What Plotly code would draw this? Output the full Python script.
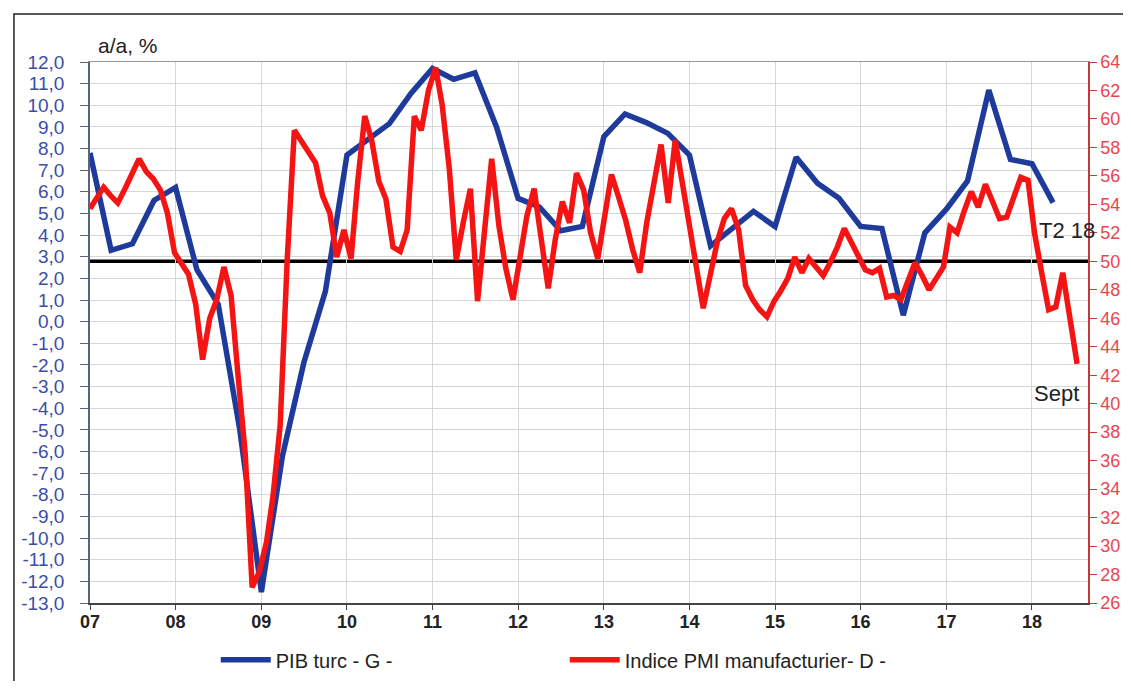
import plotly.graph_objects as go
import pandas as pd

# ---- data ----
years = list(range(2007, 2019))
year_labels = [f"{y % 100:02d}" for y in years]

quarters = pd.date_range("2007-01-01", periods=46, freq="QS")
pib = [7.8, 3.3, 3.6, 5.6,
       6.2, 2.4, 0.8, -5.0,
       -12.5, -6.2, -1.9, 1.4,
       7.7, 8.4, 9.15, 10.55,
       11.7, 11.2, 11.5, 9.0,
       5.7, 5.3, 4.2, 4.4,
       8.55, 9.6, 9.2, 8.7,
       7.7, 3.5, 4.3, 5.1,
       4.4, 7.6, 6.4, 5.7,
       4.4, 4.3, 0.3, 4.1,
       5.2, 6.5, 10.7, 7.5,
       7.3, 5.5]

months = pd.date_range("2007-01-01", periods=141, freq="MS")
pmi = [53.7, 54.5, 55.2, 54.6, 54.1, 55.1, 56.1, 57.2, 56.3, 55.8, 55.0, 53.4,
       50.6, 49.8, 49.1, 47.0, 43.1, 46.0, 47.3, 49.6, 47.6, 42.0, 36.5, 27.1,
       28.2, 30.3, 33.5, 38.5, 50.0, 59.2, 58.4, 57.7, 56.9, 54.6, 53.4, 50.3,
       52.2, 50.2, 55.5, 60.2, 58.5, 55.6, 54.4, 51.0, 50.7, 52.2, 60.2, 59.2,
       62.0, 63.6, 61.0, 56.5, 50.1, 52.8, 55.1, 47.2, 52.5, 57.2, 52.5, 49.5,
       47.3, 50.5, 53.2, 55.1, 51.5, 48.1, 51.5, 54.2, 52.7, 56.2, 55.0, 52.0,
       50.2, 53.5, 56.1, 54.5, 52.9, 50.8, 49.2, 52.8, 55.6, 58.2, 54.1, 58.5,
       55.5, 52.4, 49.2, 46.7, 49.0, 51.4, 53.0, 53.7, 52.2, 48.3, 47.3, 46.6,
       46.1, 47.2, 47.9, 48.8, 50.3, 49.2, 50.2, 49.6, 49.0, 49.9, 51.0, 52.3,
       51.3, 50.3, 49.4, 49.2, 49.5, 47.5, 47.6, 47.3, 48.5, 49.9, 49.0, 48.0,
       48.8, 49.6, 52.4, 52.0, 53.5, 54.9, 53.8, 55.4, 54.2, 53.0, 53.1, 54.5,
       55.9, 55.7, 52.0, 49.2, 46.6, 46.8, 49.2, 46.0, 42.8]

pmi_threshold = 50

left_ticks = list(range(-13, 13))
left_labels = [f"{v:.1f}".replace(".", ",") for v in left_ticks]
right_ticks = list(range(26, 66, 2))

FONT = "Liberation Sans, Arial, sans-serif"

fig = go.Figure()
fig.add_trace(go.Scatter(
    x=quarters, y=pib, name="PIB turc - G -", mode="lines",
    line=dict(color="#1e3b9c", width=5.5), xaxis="x", yaxis="y"))
fig.add_trace(go.Scatter(
    x=months, y=pmi, name="Indice PMI manufacturier- D -", mode="lines",
    line=dict(color="#f51414", width=5.5), xaxis="x2", yaxis="y2"))

fig.update_layout(
    width=1115, height=673,
    margin=dict(l=82, r=35, t=54, b=78, autoexpand=False),
    paper_bgcolor="white", plot_bgcolor="white",
    font=dict(family=FONT, size=16, color="#222"),
    showlegend=True,
    legend=dict(orientation="h", x=0.126, y=-0.105, xanchor="left", yanchor="middle",
                font=dict(size=20, color="#222"), entrywidth=284, itemwidth=50,
                bgcolor="rgba(0,0,0,0)"),
    xaxis=dict(type="date", range=["2007-01-01", "2018-08-28"],
               tickvals=[f"{y}-01-01" for y in years], ticktext=year_labels,
               showgrid=True, gridcolor="#d6d6d6", gridwidth=1,
               showline=True, linecolor="#444", linewidth=1.5,
               ticks="outside", ticklen=5, tickcolor="#444",
               tickfont=dict(size=18, color="#222", weight="bold"),
               ticklabelstandoff=-3, zeroline=False, automargin=False),
    xaxis2=dict(type="date", range=["2007-01-01", "2018-10-18"], overlaying="x",
                side="top", anchor="y", showticklabels=False, ticks="",
                showgrid=False, showline=True, linecolor="#999", zeroline=False,
                automargin=False),
    yaxis=dict(range=[-13, 12], tickvals=left_ticks, ticktext=left_labels,
               showgrid=True, gridcolor="#d6d6d6", gridwidth=1,
               showline=True, linecolor="#5a6478", linewidth=1.5,
               ticks="outside", ticklen=8, tickcolor="#5a6478",
               tickfont=dict(size=19, color="#3b4ea6"),
               ticklabelstandoff=12, zeroline=False, automargin=False),
    yaxis2=dict(range=[26, 64], tickvals=right_ticks, overlaying="y", side="right",
                anchor="x", showgrid=False,
                showline=True, linecolor="#c23a3a", linewidth=1.5,
                ticks="outside", ticklen=7, tickcolor="#c23a3a",
                tickfont=dict(size=18, color="#e8474d"),
                ticklabelstandoff=0, zeroline=False, automargin=False),
    shapes=[
        dict(type="line", xref="paper", x0=0, x1=1, yref="y2",
             y0=pmi_threshold, y1=pmi_threshold,
             line=dict(color="black", width=3.5), layer="below"),
        dict(type="rect", xref="paper", yref="paper", x0=-0.0762, x1=1.2,
             y0=-0.3, y1=1.0887, line=dict(color="#222", width=1.5),
             fillcolor="rgba(0,0,0,0)", layer="above"),
    ],
    annotations=[
        dict(text="a/a, %", xref="paper", yref="paper", x=0.006, y=1.031,
             xanchor="left", yanchor="middle", showarrow=False,
             font=dict(size=21, color="#222")),
        dict(text="T2 18", xref="x", yref="y", x=quarters[-1], y=pib[-1],
             xanchor="left", yanchor="middle", xshift=-16, yshift=-28,
             showarrow=False, font=dict(size=22, color="#222")),
        dict(text="Sept", xref="x2", yref="y2", x=months[-1], y=pmi[-1],
             xanchor="right", yanchor="middle", xshift=4, yshift=-30,
             showarrow=False, font=dict(size=22, color="#222")),
    ],
)

fig.write_html("out.html")
